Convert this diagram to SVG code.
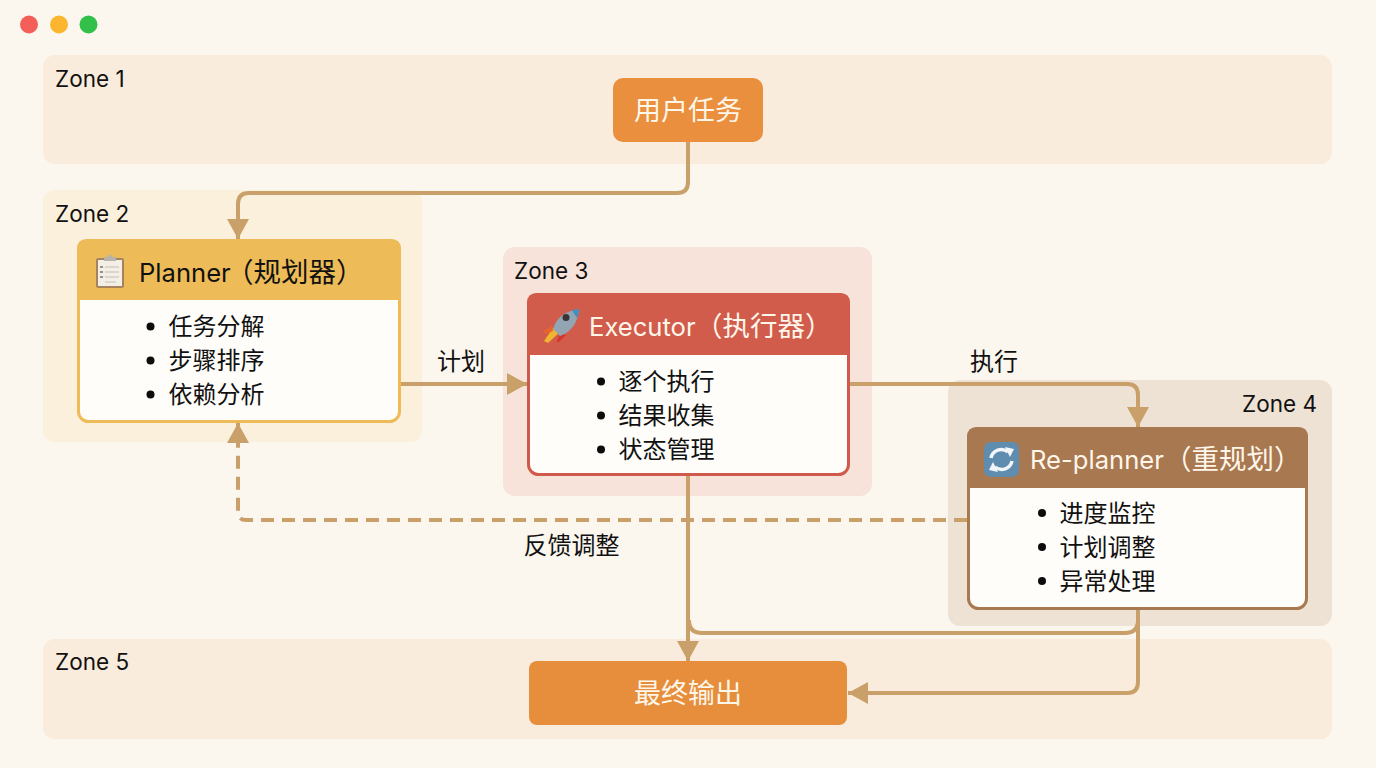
<svg xmlns="http://www.w3.org/2000/svg" width="1376" height="768" viewBox="0 0 1376 768">
<style>
text{font-family:"Inter","Noto Sans CJK SC",sans-serif;fill:#111}
.zl{font-size:22.500px}
.t{font-size:25.600px}
.tc{font-size:27.500px}
.n{font-size:27px}
.w,.w tspan{fill:#FFF6EA}
.b{font-size:24px}
.d{fill:#0C0C0C}
.c{fill:none;stroke:#C9A06A;stroke-width:4}
.body{fill:#FFFDF9}
</style>
<defs>
<marker id="ah" markerUnits="userSpaceOnUse" markerWidth="21" markerHeight="22" refX="20" refY="11" orient="auto"><path d="M0 0L20 11L0 22Z" fill="#C9A06A"/></marker>
</defs>
<rect width="1376" height="768" fill="#FBF6EE"/>
<g id="window-buttons">
<circle cx="29" cy="24.500" r="9" fill="#F25F58"/>
<circle cx="59" cy="24.500" r="9" fill="#FBB52F"/>
<circle cx="88.500" cy="24.500" r="9" fill="#32C048"/>
</g>
<g id="zones">
<g id="zone1"><rect x="43" y="55" width="1289" height="109" rx="12" fill="#FAECDC"/><text class="zl" x="55" y="87">Zone 1</text></g>
<g id="zone2"><rect x="43" y="190" width="379" height="252" rx="12" fill="#FAF0DB"/><text class="zl" x="55" y="222">Zone 2</text></g>
<g id="zone3"><rect x="503" y="247" width="369" height="249" rx="12" fill="#F7E3D9"/><text class="zl" x="514" y="279">Zone 3</text></g>
<g id="zone4"><rect x="948" y="380" width="384" height="246" rx="12" fill="#EEE2D5"/><text class="zl" x="1317" y="412" text-anchor="end">Zone 4</text></g>
<g id="zone5"><rect x="43" y="639" width="1289" height="100" rx="12" fill="#FAECDC"/><text class="zl" x="55" y="670">Zone 5</text></g>
</g>
<g id="connectors">
<path class="c" d="M688 142V182Q688 193 677 193H249Q238 193 238 204V239" marker-end="url(#ah)"/>
<path class="c" d="M401 384H527" marker-end="url(#ah)"/>
<path class="c" d="M850 384H1127Q1138 384 1138 395V427" marker-end="url(#ah)"/>
<path class="c" d="M967 520H246Q238 520 238 512V423" stroke-dasharray="13 8" marker-end="url(#ah)"/>
<path class="c" d="M688 476V661" marker-end="url(#ah)"/>
<path class="c" d="M1138 609V682Q1138 693 1127 693H848" marker-end="url(#ah)"/>
<path class="c" d="M689 620Q689 633 702 633H1125Q1138 633 1138 620"/>
<text class="b" x="437" y="370">计划</text>
<text class="b" x="970" y="370">执行</text>
<text class="b" x="523.500" y="554">反馈调整</text>
</g>
<g id="start">
<rect x="613" y="78" width="150" height="64" rx="10" fill="#E98F3E"/>
<text class="n w" x="688" y="120" text-anchor="middle">用户任务</text>
</g>
<g id="planner">
<rect x="78.500" y="240.500" width="321" height="181" rx="10" class="body" stroke="#EDBC58" stroke-width="3"/>
<path d="M77 300V249Q77 239 87 239H391Q401 239 401 249V300Z" fill="#EDBC58"/>
<g id="icon-clipboard">
<rect x="96" y="258" width="28" height="30" rx="2.500" fill="#A5835F"/>
<rect x="98" y="260" width="24" height="26" fill="#F3EFE6"/>
<path d="M104 261V257H107.500Q110 252 112.500 257H116V261Z" fill="#B8B4AC"/>
<path d="M105 267H119M105 272H119M105 277H119M105 282H116" stroke="#C4BFB5" stroke-width="1"/>
<path d="M100 267H103M100 272H103M100 277H103" stroke="#77736B" stroke-width="1.500"/>
</g>
<text class="t" x="139" y="282">Planner<tspan class="tc" x="226">（规划器）</tspan></text>
<circle class="d" cx="150.500" cy="326.500" r="4"/><text class="b" x="168.500" y="335">任务分解</text>
<circle class="d" cx="150.500" cy="360.500" r="4"/><text class="b" x="168.500" y="369">步骤排序</text>
<circle class="d" cx="150.500" cy="394.500" r="4"/><text class="b" x="168.500" y="403">依赖分析</text>
</g>
<g id="executor">
<rect x="528.500" y="294.500" width="320" height="180" rx="10" class="body" stroke="#CF5A4B" stroke-width="3"/>
<path d="M527 355V303Q527 293 537 293H840Q850 293 850 303V355Z" fill="#D15C4C"/>
<g id="icon-rocket">
<path d="M544 341L553 328L560 332L548 343Z" fill="#F0B52E"/>
<path d="M543 331L552 326L553 331L546 334Z" fill="#E8642E"/>
<path d="M557 341L560 333L566 335L558 343Z" fill="#D6362B"/>
<path d="M553 329Q558 312 579 309Q577 330 560 336Z" fill="#93A4B2"/>
<path d="M572 310L579 309Q579 314 577 318Z" fill="#3F8FC4"/>
<circle cx="566" cy="317.500" r="3.500" fill="#3A3338"/>
</g>
<text class="t w" x="589" y="335.500">Executor<tspan class="tc" x="695">（执行器）</tspan></text>
<circle class="d" cx="601" cy="381.500" r="4"/><text class="b" x="618.500" y="390">逐个执行</text>
<circle class="d" cx="601" cy="415.500" r="4"/><text class="b" x="618.500" y="424">结果收集</text>
<circle class="d" cx="601" cy="449.500" r="4"/><text class="b" x="618.500" y="458">状态管理</text>
</g>
<g id="replanner">
<rect x="968.500" y="428.500" width="338" height="180" rx="10" class="body" stroke="#A87850" stroke-width="3"/>
<path d="M967 488V437Q967 427 977 427H1298Q1308 427 1308 437V488Z" fill="#A87850"/>
<g id="icon-refresh">
<rect x="984" y="442" width="35" height="35" rx="7" fill="#5F8DB0"/>
<path d="M991 458A10.500 10.500 0 0 1 1008 452" fill="none" stroke="#F3F6F8" stroke-width="3.500"/>
<path d="M1012 461A10.500 10.500 0 0 1 995 467" fill="none" stroke="#F3F6F8" stroke-width="3.500"/>
<path d="M1005 447L1014 449L1010 457Z" fill="#F3F6F8"/>
<path d="M998 472L989 470L993 462Z" fill="#F3F6F8"/>
</g>
<text class="t w" x="1030" y="469">Re-planner<tspan class="tc" x="1164">（重规划）</tspan></text>
<circle class="d" cx="1042" cy="513" r="4"/><text class="b" x="1059.500" y="522">进度监控</text>
<circle class="d" cx="1042" cy="547" r="4"/><text class="b" x="1059.500" y="556">计划调整</text>
<circle class="d" cx="1042" cy="581" r="4"/><text class="b" x="1059.500" y="590">异常处理</text>
</g>
<g id="end">
<rect x="529" y="661" width="318" height="64" rx="8" fill="#E68E3B"/>
<text class="n w" x="688" y="703" text-anchor="middle">最终输出</text>
</g>
</svg>
